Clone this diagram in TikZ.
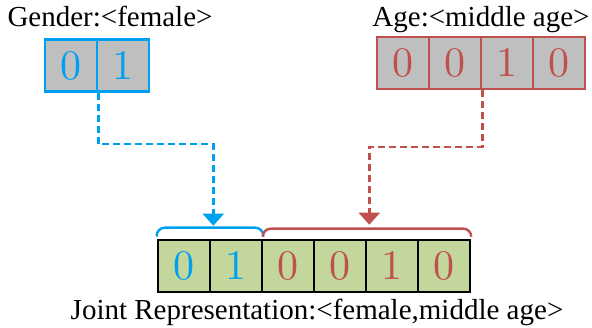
\documentclass[tikz,border=0pt]{standalone}
\usepackage{fontspec}
\newfontfamily\lbl{Liberation Serif}
\newfontfamily\digf{lmroman10-regular}[Extension=.otf]
\usetikzlibrary{arrows.meta}
\definecolor{cblue}{RGB}{0,160,240}
\definecolor{cred}{RGB}{192,80,77}
\definecolor{cgray}{RGB}{191,191,191}
\definecolor{cgreen}{RGB}{195,214,155}
\begin{document}
\begin{tikzpicture}[x=1pt,y=-1pt,
 cell/.style={draw,line width=2.6pt,minimum width=52pt,minimum height=52pt,inner sep=0pt,font=\digf\fontsize{42}{42}\selectfont},
 gcell/.style={cell,draw=cblue,fill=cgray,text=cblue},
 acell/.style={cell,draw=cred,fill=cgray,text=cred},
 jcell/.style={cell,draw=black,fill=cgreen},
 lab/.style={font=\lbl\fontsize{29}{29}\selectfont,anchor=base,inner sep=0pt},
 conn/.style={line width=2.4pt,dash pattern=on 7pt off 4pt,-{Triangle[width=21pt,length=12pt]}},
 bracestyle/.style={line width=2.4pt,rounded corners=8pt}]
\useasboundingbox (0,0) rectangle (592,328);
% labels
\node[lab] (gl) at (110,27) {Gender:<female>};
\node[lab] (al) at (481,27) {Age:<middle age>};
\node[lab] (jl) at (317,320) {Joint Representation:<female,middle age>};
% gender cells
\node[gcell] (g1) at (71,65.5) {0};
\node[gcell] (g2) at (123,65.5) {1};
% age cells
\node[acell] (a1) at (403,63) {0};
\node[acell] (a2) at (455,63) {0};
\node[acell] (a3) at (507,63) {1};
\node[acell] (a4) at (559,63) {0};
% joint cells
\node[jcell,text=cblue] (j1) at (184,266) {0};
\node[jcell,text=cblue] (j2) at (236,266) {1};
\node[jcell,text=cred] (j3) at (288,266) {0};
\node[jcell,text=cred] (j4) at (340,266) {0};
\node[jcell,text=cred] (j5) at (392,266) {1};
\node[jcell,text=cred] (j6) at (444,266) {0};
% braces
\draw[bracestyle,draw=cblue] ([yshift=2pt]j1.north west) -- ([yshift=11pt]j1.north west) -- ([yshift=11pt]j2.north east) -- ([yshift=2pt]j2.north east);
\draw[bracestyle,draw=cred] ([xshift=2pt,yshift=2pt]j3.north west) -- ([xshift=2pt,yshift=10pt]j3.north west) -- ([yshift=10pt]j6.north east) -- ([yshift=2pt]j6.north east);
% connectors
\draw[conn,cblue] (g1.south east) -- ++(0,51) -| ([xshift=2pt,yshift=13pt]j1.north east);
\draw[conn,cred] (a2.south east) -- ++(0,57) -| ([xshift=2pt,yshift=14pt]j4.north east);
\end{tikzpicture}
\end{document}
